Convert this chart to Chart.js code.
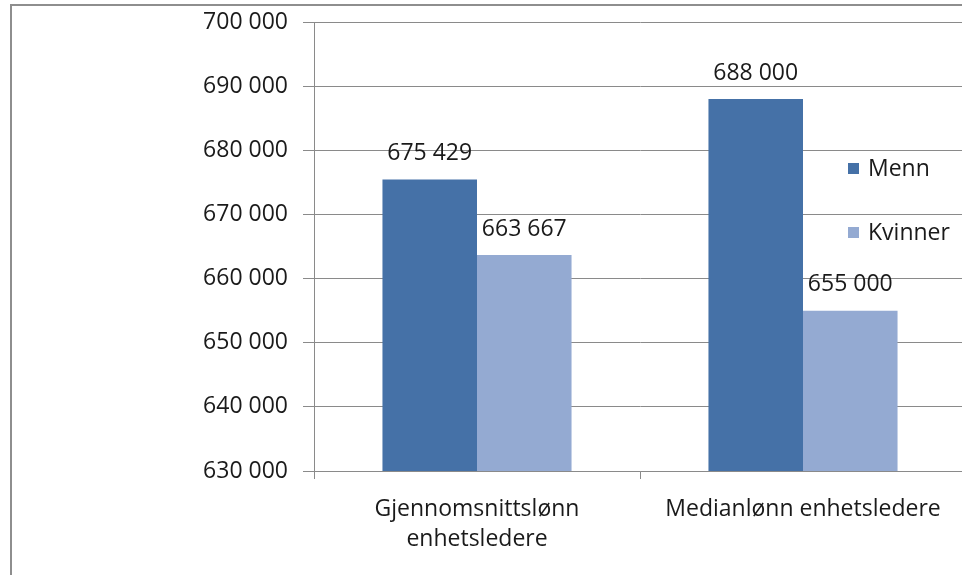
<!DOCTYPE html>
<html>
<head>
<meta charset="utf-8">
<script src="https://cdn.jsdelivr.net/npm/chart.js@4.4.1/dist/chart.umd.min.js"></script>
<style>
  html, body { margin: 0; padding: 0; background: #fff; overflow: hidden; width: 962px; height: 575px; }
  #frame {
    position: absolute; left: 10px; top: 4px; width: 980px; height: 600px;
    border-left: 2px solid #8e8e8e; border-top: 2px solid #8e8e8e; background: #fff;
  }
  #summaryChart { position: absolute; left: 0; top: 0; }
</style>
</head>
<body>
<div id="frame"><canvas id="summaryChart" width="954" height="569"></canvas></div>
<script>
var categories = [["Gjennomsnittslønn", "enhetsledere"], "Medianlønn enhetsledere"];
var seriesNames = ["Menn", "Kvinner"];
var menn = [675429, 688000];
var kvinner = [663667, 655000];
var yTicks = [630000, 640000, 650000, 660000, 670000, 680000, 690000, 700000];

var fontFamily = "'Open Sans', 'DejaVu Sans', sans-serif";
var gridColor = "#8a8a8a";
var textColor = "#1a1a1a";

function formatNumber(n) {
  return String(n).replace(/\B(?=(\d{3})+(?!\d))/g, " ");
}

// value labels above each bar
var valueLabels = {
  id: "valueLabels",
  afterDatasetsDraw: function(chart) {
    var ctx = chart.ctx;
    ctx.save();
    ctx.font = "23px " + fontFamily;
    ctx.fillStyle = textColor;
    ctx.textAlign = "center";
    ctx.textBaseline = "middle";
    chart.data.datasets.forEach(function(ds, i) {
      chart.getDatasetMeta(i).data.forEach(function(bar, j) {
        ctx.fillText(formatNumber(ds.data[j]), bar.x, bar.y - 26);
      });
    });
    ctx.restore();
  }
};

// legend drawn inside the plot area, on the right
var innerLegend = {
  id: "innerLegend",
  afterDraw: function(chart) {
    var ctx = chart.ctx;
    ctx.save();
    ctx.font = "23px " + fontFamily;
    ctx.textBaseline = "middle";
    ctx.textAlign = "left";
    chart.data.datasets.forEach(function(ds, i) {
      var y = 163 + i * 64;
      var x = 836;
      ctx.fillStyle = ds.backgroundColor;
      ctx.fillRect(x, y - 6, 11, 11);
      ctx.fillStyle = textColor;
      ctx.fillText(ds.label, x + 20, y);
    });
    ctx.restore();
  }
};

var summaryCanvas = document.getElementById("summaryChart").getContext("2d");
var summaryChart = new Chart(summaryCanvas, {
  type: "bar",
  data: {
    labels: categories,
    datasets: [
      {
        label: seriesNames[0],
        data: menn,
        backgroundColor: "#4571a7",
        categoryPercentage: 0.58,
        barPercentage: 1
      },
      {
        label: seriesNames[1],
        data: kvinner,
        backgroundColor: "#94aad2",
        categoryPercentage: 0.58,
        barPercentage: 1
      }
    ]
  },
  options: {
    responsive: false,
    animation: false,
    layout: { padding: { top: 16, right: 0, bottom: 0, left: 0 } },
    plugins: {
      legend: { display: false },
      tooltip: { enabled: false }
    },
    scales: {
      x: {
        afterFit: function(scale) { scale.height = 104; },
        grid: {
          offset: true,
          drawOnChartArea: false,
          color: gridColor,
          tickLength: 8
        },
        border: { color: gridColor },
        ticks: {
          color: textColor,
          padding: 15,
          font: { family: fontFamily, size: 23, lineHeight: 1.32 },
          maxRotation: 0
        }
      },
      y: {
        min: 630000,
        max: 700000,
        afterFit: function(scale) {
          scale.width = 302;
          scale.paddingTop = 10;
          scale.paddingBottom = 10;
        },
        afterBuildTicks: function(scale) {
          scale.ticks = yTicks.map(function(v) { return { value: v }; });
        },
        grid: { color: gridColor, tickLength: 11 },
        border: { color: gridColor },
        ticks: {
          color: textColor,
          padding: 15,
          font: { family: fontFamily, size: 23 },
          callback: function(v) { return formatNumber(v); }
        }
      }
    }
  },
  plugins: [valueLabels, innerLegend]
});
</script>
</body>
</html>
